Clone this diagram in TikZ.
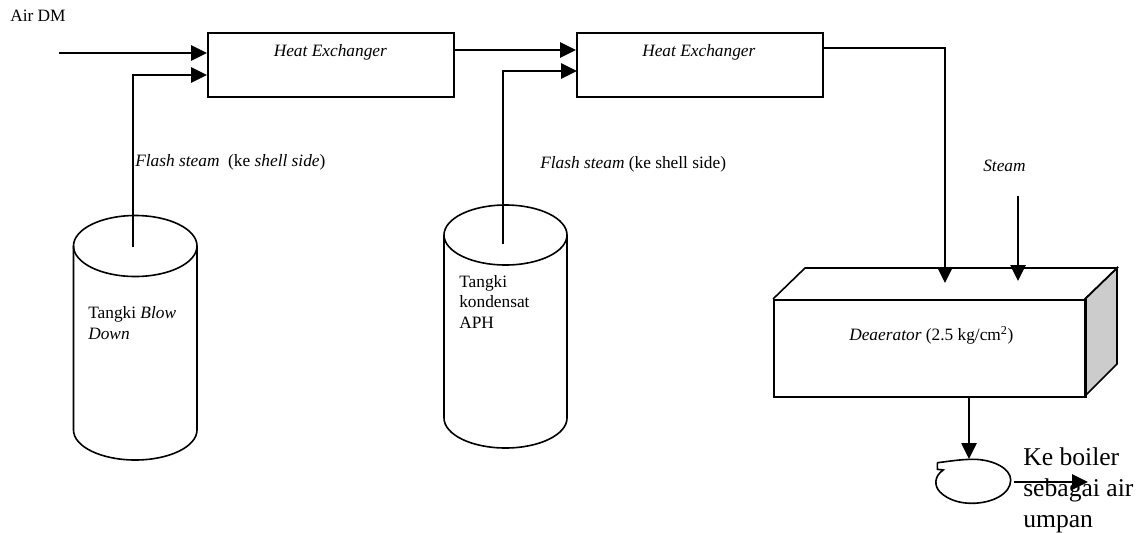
\documentclass[tikz,border=0pt]{standalone}
\usepackage{fontspec}
\setmainfont{Liberation Serif}
\usetikzlibrary{arrows.meta}
\tikzset{
  x=0.75pt,y=-0.75pt,
  line/.style={line width=1.2pt,line join=miter},
  flow/.style={line,-{Triangle[length=12pt,width=11.5pt]}},
  hebox/.style={draw,line width=1.2pt,minimum width=184.5pt,minimum height=48pt,inner sep=0pt,anchor=north west},
  lbl/.style={inner sep=0pt,anchor=base west,font=\fontsize{13}{15}\selectfont},
  big/.style={inner sep=0pt,anchor=base west,font=\fontsize{19.2}{23}\selectfont},
}
\begin{document}
\begin{tikzpicture}
\useasboundingbox (0,0) rectangle (1144,532);
% heat exchangers
\node[hebox] (he1) at (207,32) {};
\node[hebox] (he2) at (576,32) {};
% tanks
\draw[line] (73.5,246) -- (73.5,430) arc[start angle=180,end angle=0,x radius=61.75,y radius=30] -- (197,246);
\draw[line] (135.25,246) ellipse[x radius=61.75,y radius=30.5];
\draw[line] (444,235) -- (444,418) arc[start angle=180,end angle=0,x radius=61.5,y radius=30] -- (567,235);
\draw[line] (505.5,235) ellipse[x radius=61.5,y radius=30];
% deaerator
\draw[line,fill=black!20] (1085,299) -- (1117,268) -- (1117,364) -- (1085,396) -- cycle;
\draw[line] (773,299) -- (805,268) -- (1117,268) -- (1085,299);
\node[draw,line width=1.2pt,minimum width=234pt,minimum height=72.75pt,inner sep=0pt,anchor=north west] (dea) at (773,299) {};
% pump
\draw[line] (937.3,462.7) -- (937.3,469.3) -- (943.3,470)
  .. controls (934,476) and (934,486) .. (940,492)
  .. controls (948,500) and (960,503.3) .. (971.7,503.3)
  .. controls (992,503.3) and (1010.7,494) .. (1010.7,480)
  .. controls (1010.7,468) and (992,459.3) .. (973.3,459.3)
  .. controls (960,459.3) and (948,461.5) .. (937.3,462.7);
\coordinate (pumpin) at (969,459);
\coordinate (pumpout) at (1014,482);
\coordinate (exit) at (1088,482);
% free ends
\coordinate (dm) at (59,53);
\coordinate (dmin) at (207,53);
\coordinate (fs1) at (133,247);
\coordinate (fs1b) at (133,75);
\coordinate (fs1in) at (207,75);
\coordinate (fs2) at (503,244);
\coordinate (fs2b) at (503,71);
\coordinate (fs2in) at (577,71);
\coordinate (hh1) at (453,50);
\coordinate (hh2) at (576,50);
\coordinate (hd1) at (822,48);
\coordinate (hd2) at (945,48);
\coordinate (hd3) at (945,283);
\coordinate (st1) at (1018,196);
\coordinate (st2) at (1018,281);
\coordinate (dd1) at (969,396);
% connectors
\draw[flow] (dm) -- (dmin);
\draw[flow] (fs1) -- (fs1b) -- (fs1in);
\draw[flow] (hh1) -- (hh2);
\draw[flow] (fs2) -- (fs2b) -- (fs2in);
\draw[flow] (hd1) -- (hd2) -- (hd3);
\draw[flow] (st1) -- (st2);
\draw[flow] (dd1) -- (pumpin);
\draw[flow] (pumpout) -- (exit);
% labels
\node[lbl] (airdm) at (10,21) {Air DM};
\node[lbl] (het1) at (273.5,56) {\itshape Heat Exchanger};
\node[lbl] (het2) at (642,56) {\itshape Heat Exchanger};
\node[lbl] (fl1) at (135,166) {\textit{Flash steam}\ \ (ke \textit{shell side})};
\node[lbl] (fl2) at (540,168) {\textit{Flash steam} (ke shell side)};
\node[lbl] (stm) at (983,171) {\itshape Steam};
\node[lbl] (tb1) at (88,318) {Tangki \textit{Blow}};
\node[lbl] (tb2) at (88,339) {\itshape Down};
\node[lbl] (tk1) at (459,287) {Tangki};
\node[lbl] (tk2) at (459,307) {kondensat};
\node[lbl] (tk3) at (459,328) {APH};
\node[lbl] (deat) at (849,340) {\textit{Deaerator} (2.5 kg/cm\textsuperscript{2})};
\node[big] (kb1) at (1023,465) {Ke boiler};
\node[big] (kb2) at (1023,496) {sebagai air};
\node[big] (kb3) at (1023,527) {umpan};
\end{tikzpicture}
\end{document}
